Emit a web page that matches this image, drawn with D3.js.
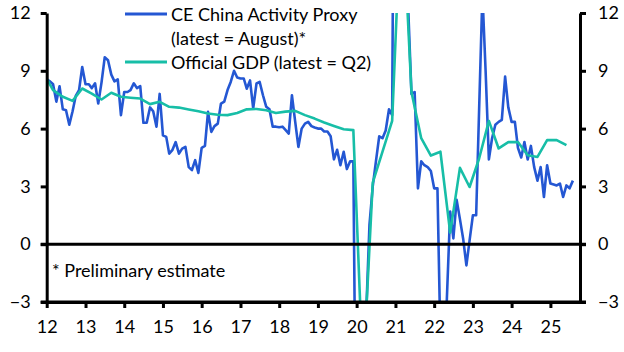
<!DOCTYPE html>
<html lang="en">
<head>
    <meta charset="UTF-8">
    <title>China activity proxy vs official GDP</title>
    <style>
      body { margin: 0; background: #fff; }
      text { font-family: Lato, "Open Sans", sans-serif; fill: #000; }
    </style>
</head>
<body>
<svg height="352" width="624"></svg>

<script src="https://d3js.org/d3.v7.min.js"></script>
<script>

  // CE China Activity Proxy, % y/y, monthly from Jan 2012
  var proxyStart = [2012, 0];
  var proxyValues = [
    8.55, 8.45, 8.3, 7.4, 8.2, 7.0, 6.95, 6.2, 6.9, 7.7, 8.0, 9.2,
    8.3, 8.3, 8.1, 8.35, 7.3, 8.4, 9.7, 9.55, 8.8, 8.45, 8.55, 6.7,
    7.9, 7.9, 8.0, 8.35, 8.1, 8.2, 6.3, 6.3, 7.1, 6.9, 6.1, 7.8,
    5.65, 5.57, 4.7, 4.9, 5.3, 4.7, 4.96, 5.05, 4.0, 3.85, 4.36, 3.7,
    5.0, 5.1, 6.87, 5.83, 6.13, 6.26, 7.3, 7.4, 8.0, 8.42, 9.0, 8.65,
    8.6, 8.6, 8.07, 8.5, 7.05, 8.34, 8.42, 7.73, 7.13, 7.0, 6.1, 6.1,
    6.07, 6.1, 5.93, 5.74, 7.73, 6.35, 5.05, 6.0, 6.26, 6.35, 6.13, 6.06,
    6.0, 6.0, 5.85, 5.85, 5.6, 4.4, 4.9, 4.1, 4.8, 3.9, 4.3, 4.3,
    -15, -12, -7, -3.5, 1.0, 3.0, 4.3, 5.6, 5.5, 5.9, 7.0, 6.7,
    35, 30, 22, 17, 12.3, 7.8, 7.9, 2.9, 4.3, 4.1, 4.0, 3.8,
    2.9, 2.9, -5, -8, -2.8, 1.7, 0.3, 2.3, 1.3, 0.3, -1.1, 0.2,
    1.5, 1.5, 7, 13, 9, 4.4, 5.5, 6.2, 6.35, 6.45, 8.7, 7.1,
    6.35, 6.35, 5.0, 4.5, 5.3, 4.4, 5.1, 4.0, 3.3, 4.0, 2.45, 4.1,
    3.15, 3.1, 3.05, 3.15, 2.45, 3.05, 2.9, 3.3
  ];

  // Official GDP, % y/y, quarterly from Q4 2011 (plotted at the quarter's last month)
  var gdpStart = [2011, 4];
  var gdpValues = [
    8.9,
    8.0, 7.65, 7.44, 8.08,
    7.82, 7.51, 7.86, 7.65,
    7.6, 7.56, 7.27, 7.39,
    7.13, 7.09, 6.99, 6.9,
    6.78, 6.72, 6.7, 6.81,
    7.0, 7.02, 6.95, 6.81,
    6.88, 6.92, 6.7, 6.52,
    6.32, 6.14, 5.97, 5.92,
    -6.8, 3.2, 4.8, 6.4,
    18.3, 7.9, 5.5, 4.6,
    4.8, 0.6, 3.96, 2.97,
    4.45, 6.4, 4.97, 5.3,
    5.3, 4.62, 4.53, 5.4,
    5.4, 5.14
  ];

  var yTicks = [-3, 0, 3, 6, 9, 12];
  var yearTicks = d3.range(2012, 2026);
  var legendLabels = [["CE China Activity Proxy", "(latest = August)*"], ["Official GDP (latest = Q2)"]];
  var footnote = "* Preliminary estimate";

  var proxyData = proxyValues.map(function(v, i) {
    return {date: new Date(proxyStart[0], proxyStart[1] + i, 1), value: v};
  });
  var gdpData = gdpValues.map(function(v, i) {
    var q = gdpStart[1] - 1 + i;
    return {date: new Date(gdpStart[0], q * 3 + 2, 1), value: v};
  });

  var blue = "#2457d3";
  var teal = "#17bea7";

  var plot = {left: 46.7, right: 580, top: 13, bottom: 302};

  var svg = d3.select("svg");

  var x = d3.scaleTime()
      .domain([new Date(2012, 0, 1), new Date(2025, 9, 7)])
      .range([plot.left, plot.right]);
  var y = d3.scaleLinear()
      .domain([-3, 12])
      .range([plot.bottom, plot.top]);

  svg.append("clipPath")
      .attr("id", "plotClip")
    .append("rect")
      .attr("x", plot.left)
      .attr("y", plot.top)
      .attr("width", plot.right - plot.left)
      .attr("height", plot.bottom - plot.top);

  var line = d3.line()
      .x(function(d) { return x(d.date); })
      .y(function(d) { return y(d.value); });

  var lines = svg.append("g").attr("clip-path", "url(#plotClip)");

  lines.append("path")
      .datum(proxyData)
      .attr("fill", "none")
      .attr("stroke", blue)
      .attr("stroke-width", 2.6)
      .attr("stroke-linejoin", "round")
      .attr("d", line);

  lines.append("path")
      .datum(gdpData)
      .attr("fill", "none")
      .attr("stroke", teal)
      .attr("stroke-width", 2.6)
      .attr("stroke-linejoin", "round")
      .attr("d", line);

  // zero line
  svg.append("line")
      .attr("x1", plot.left - 6).attr("x2", plot.right + 6)
      .attr("y1", y(0)).attr("y2", y(0))
      .attr("stroke", "#000").attr("stroke-width", 3);

  // axes
  var leftAxis = d3.axisLeft(y).tickValues(yTicks).tickSize(6).tickSizeOuter(0).tickPadding(10);
  var rightAxis = d3.axisRight(y).tickValues(yTicks).tickSize(6).tickSizeOuter(0).tickPadding(12);
  var bottomAxis = d3.axisBottom(x)
      .tickValues(yearTicks.map(function(yr) { return new Date(yr, 0, 1); }))
      .tickFormat(function(d) { return String(d.getFullYear()).slice(2); })
      .tickSize(6).tickSizeOuter(0).tickPadding(12);

  function styleAxis(g) {
    g.select(".domain").attr("stroke", "#000").attr("stroke-width", 3);
    g.selectAll(".tick line").attr("stroke", "#000").attr("stroke-width", 3);
    g.selectAll(".tick text")
        .attr("font-family", "Lato, 'Open Sans', sans-serif")
        .attr("font-size", 18)
        .attr("fill", "#000");
  }

  svg.append("g")
      .attr("transform", "translate(0," + plot.bottom + ")")
      .call(bottomAxis)
      .call(styleAxis);

  svg.append("line")
      .attr("x1", plot.left - 6).attr("x2", plot.right + 6)
      .attr("y1", plot.bottom).attr("y2", plot.bottom)
      .attr("stroke", "#000").attr("stroke-width", 3);

  svg.append("g")
      .attr("transform", "translate(" + plot.left + ",0)")
      .call(leftAxis)
      .call(styleAxis);

  svg.append("g")
      .attr("transform", "translate(" + plot.right + ",0)")
      .call(rightAxis)
      .call(styleAxis);

  // legend
  var legendColors = [blue, teal];
  var legendY = [14, 62];
  var legend = svg.append("g");
  legendLabels.forEach(function(labels, i) {
    legend.append("line")
        .attr("x1", 125).attr("x2", 167)
        .attr("y1", legendY[i]).attr("y2", legendY[i])
        .attr("stroke", legendColors[i]).attr("stroke-width", 3);
    labels.forEach(function(t, j) {
      legend.append("text")
          .attr("x", 171)
          .attr("y", legendY[i] + 7 + j * 23.5)
          .attr("font-size", 18)
          .text(t);
    });
  });

  svg.append("text")
      .attr("x", 52)
      .attr("y", 277)
      .attr("font-size", 18)
      .text(footnote);

</script>
</body>
</html>
